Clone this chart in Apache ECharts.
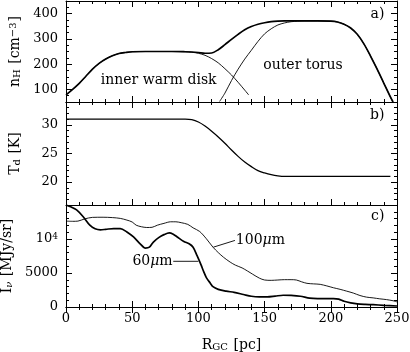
<!DOCTYPE html>
<html>
<head>
<meta charset="utf-8">
<script src="https://cdn.jsdelivr.net/npm/echarts@6/dist/echarts.min.js"></script>
<style>
html, body { margin: 0; padding: 0; background: #fff; }
#chart { width: 410px; height: 352px; }
</style>
</head>
<body>
<div id="chart"></div>
<script>
// a) gas density n_H [cm^-3] vs R_GC [pc]
const rDisk = [0, 5, 10, 15, 20, 25, 30, 35, 40, 45, 50, 60, 70, 80, 90, 95, 100, 105, 110, 115, 120, 125, 130, 135, 138]
const nDisk = [78, 100, 124, 152, 180, 203, 220, 233, 242, 246, 249, 250, 250, 250, 249, 247, 243, 235, 222, 205, 182, 157, 128, 97, 78]
const rTorus = [116, 120, 125, 130, 135, 140, 145, 150, 155, 160, 165, 170, 175, 180, 190, 200, 205, 210, 215, 220, 225, 230, 235, 240, 245, 247]
const nTorus = [52, 85, 135, 180, 220, 255, 290, 320, 340, 355, 363, 368, 370, 371, 371, 370, 367, 358, 343, 318, 280, 232, 180, 125, 70, 50]
const rTotal = [0, 5, 10, 15, 20, 25, 30, 35, 40, 45, 50, 60, 70, 80, 90, 95, 100, 105, 110, 115, 120, 125, 130, 135, 140, 145, 150, 155, 160, 165, 170, 180, 190, 200, 205, 210, 215, 220, 225, 230, 235, 240, 245, 247]
const nTotal = [78, 100, 124, 152, 180, 203, 220, 233, 242, 246, 249, 250, 250, 250, 249, 248, 246, 243, 244, 257, 277, 298, 318, 336, 349, 358, 364, 368, 370, 371, 371, 371, 371, 370, 367, 358, 343, 318, 280, 232, 180, 125, 70, 50]

// b) dust temperature T_d [K]
const rTd = [0, 30, 60, 90, 95, 100, 105, 110, 115, 120, 125, 130, 135, 140, 145, 150, 155, 160, 165, 200, 245]
const td = [31, 31, 31, 31, 30.9, 30.5, 29.8, 28.9, 27.9, 26.8, 25.6, 24.5, 23.5, 22.7, 22.0, 21.6, 21.3, 21.1, 21.0, 21.0, 21.0]

// c) intensity I_nu [MJy/sr]
const r60 = [0, 4, 8, 13, 18, 22, 26, 30, 36, 41, 46, 51, 56, 60, 63, 66, 70, 74, 78, 81, 84, 89, 93, 96, 99, 102, 104, 106, 109, 111, 115, 121, 127, 134, 140, 146, 152, 158, 164, 170, 177, 184, 190, 196, 202, 206, 210, 215, 220, 226, 232, 240, 250]
const i60 = [15000, 14700, 14270, 13280, 12030, 11500, 11350, 11420, 11540, 11540, 11040, 10300, 9300, 8660, 8800, 9550, 10200, 10640, 10900, 10700, 10300, 9640, 9300, 8800, 7550, 6200, 5200, 4330, 3500, 2990, 2600, 2330, 2150, 1840, 1580, 1490, 1490, 1600, 1730, 1700, 1580, 1300, 1240, 1240, 1240, 1150, 840, 600, 450, 380, 340, 250, 150]
const r100 = [0, 5, 9, 14, 20, 28, 35, 41, 46, 50, 53, 57, 61, 65, 69, 74, 79, 83, 87, 92, 96, 101, 106, 111, 115, 119, 124, 128, 133, 137, 141, 146, 150, 155, 160, 165, 170, 174, 178, 182, 187, 192, 197, 202, 207, 212, 217, 222, 227, 232, 237, 242, 247, 250]
const i100 = [12630, 12600, 12630, 12950, 13180, 13200, 13150, 13030, 12780, 12500, 12030, 11800, 11690, 11720, 12030, 12300, 12530, 12530, 12400, 12150, 11640, 11100, 10040, 8800, 8000, 7310, 6600, 6150, 5750, 5300, 4820, 4250, 3970, 3920, 3970, 4020, 4020, 3970, 3700, 3480, 3400, 3330, 3100, 2830, 2600, 2330, 2050, 1690, 1450, 1340, 1200, 1090, 920, 750]

// tick labels
const rTicks = [0, 50, 100, 150, 200, 250]
const nTicks = [100, 200, 300, 400]
const tdTicks = [20, 25, 30]
const iTicks = [0, 5000, 10000]

const font = 'DejaVu Serif'
const ink = '#000'
const zip = (xs, ys) => xs.map((x, i) => [x, ys[i]])

const rich = {
  sub: { fontFamily: font, fontSize: 10, color: ink, verticalAlign: 'bottom', padding: [0, 1, 0, 0] },
  sup: { fontFamily: font, fontSize: 10, color: ink, verticalAlign: 'top', padding: [0, 1, 0, 0] },
  itsub: { fontFamily: font, fontSize: 10, color: ink, fontStyle: 'italic', verticalAlign: 'bottom', padding: [0, 1, 0, 0] }
}
const tickRich = {
  sup: { fontFamily: font, fontSize: 9, color: ink, verticalAlign: 'top' }
}

const grids = [
  { left: 66, right: 13, top: 1, height: 101, outerBoundsMode: 'none', containLabel: false },
  { left: 66, right: 13, top: 102, height: 103, outerBoundsMode: 'none', containLabel: false },
  { left: 66, right: 13, top: 205, height: 102, outerBoundsMode: 'none', containLabel: false }
]
const yPanels = [
  { min: 50, max: 450, minor: 25, majors: nTicks, name: 'n{sub|H} [cm{sup|−3}]' },
  { min: 16, max: 34, minor: 1, majors: tdTicks, name: 'T{sub|d} [K]' },
  { min: 0, max: 15000, minor: 1000, majors: iTicks, name: 'I{itsub|ν} [MJy/sr]' }
]

const xAxis = []
const yAxis = []
grids.forEach((g, gi) => {
  ['bottom', 'top'].forEach(pos => {
    const last = gi === 2 && pos === 'bottom'
    xAxis.push({
      type: 'value', gridIndex: gi, position: pos, min: 0, max: 250, interval: 50,
      axisLine: { show: true, lineStyle: { color: ink, width: 1 } },
      axisTick: { show: true, inside: true, length: 6, lineStyle: { color: ink } },
      minorTick: { show: true, splitNumber: 5, length: 3, lineStyle: { color: ink } },
      splitLine: { show: false },
      axisLabel: { show: last, color: ink, fontFamily: font, fontSize: 13, margin: 5 },
      name: last ? 'R{sub|GC} [pc]' : '',
      nameLocation: 'middle', nameGap: 31,
      nameTextStyle: { color: ink, fontFamily: font, fontSize: 14, rich: rich }
    })
  })
  const p = yPanels[gi]
  ;['left', 'right'].forEach(pos => {
    // minor ticks + frame line
    yAxis.push({
      type: 'value', gridIndex: gi, position: pos, min: p.min, max: p.max, interval: p.minor,
      axisLine: { show: true, lineStyle: { color: ink, width: 1 } },
      axisTick: { show: true, inside: true, length: 3, lineStyle: { color: ink } },
      splitLine: { show: false },
      axisLabel: { show: false }
    })
    // major ticks + labels
    yAxis.push({
      type: 'value', gridIndex: gi, position: pos, min: p.min, max: p.max,
      axisLine: { show: false },
      axisTick: { show: true, inside: true, length: 6, customValues: p.majors, lineStyle: { color: ink } },
      splitLine: { show: false },
      axisLabel: {
        show: pos === 'left', customValues: p.majors, color: ink, fontFamily: font, fontSize: 13, margin: 8,
        formatter: v => v === 10000 ? '10{sup|4}' : String(v),
        rich: tickRich
      },
      name: pos === 'left' ? p.name : '',
      nameLocation: 'middle', nameRotate: 90, nameGap: 44,
      nameTextStyle: { color: ink, fontFamily: font, fontSize: 14, rich: rich }
    })
  })
})

const line = (name, gi, data, width) => ({
  name: name, type: 'line', xAxisIndex: gi * 2, yAxisIndex: gi * 4,
  data: data, showSymbol: false, symbol: 'none', smooth: 0.3,
  lineStyle: { color: ink, width: width }
})

const series = [
  line('disk', 0, zip(rDisk, nDisk), 0.9),
  line('torus', 0, zip(rTorus, nTorus), 0.9),
  line('total', 0, zip(rTotal, nTotal), 1.7),
  line('Td', 1, zip(rTd, td), 1.3),
  line('60', 2, zip(r60, i60), 1.7),
  line('100', 2, zip(r100, i100), 0.9)
]

const chart = echarts.init(document.getElementById('chart'), null, { renderer: 'canvas' })
chart.setOption({
  animation: false,
  backgroundColor: '#fff',
  grid: grids,
  xAxis: xAxis,
  yAxis: yAxis,
  series: series
})

// annotations in data coordinates
const notes = [
  { s: 0, at: [70, 137], text: 'inner warm disk', align: 'center', size: 14 },
  { s: 1, at: [179, 196], text: 'outer torus', align: 'center', size: 14 },
  { s: 0, at: [240.5, 398], text: 'a)', align: 'right', size: 14 },
  { s: 3, at: [240.5, 31.7], text: 'b)', align: 'right', size: 14 },
  { s: 4, at: [240.5, 13280], text: 'c)', align: 'right', size: 14 },
  { s: 5, at: [128.3, 9750], text: '100{mu|μ}m', align: 'left', size: 14 },
  { s: 4, at: [80.5, 6720], text: '60{mu|μ}m', align: 'right', size: 14 }
]
const leaders = [
  { s: 5, from: [111.3, 8800], to: [127.6, 9790] },
  { s: 4, from: [81, 6720], to: [100, 6720] }
]
const graphic = []
notes.forEach(n => {
  const pt = chart.convertToPixel({ seriesIndex: n.s }, n.at)
  graphic.push({
    type: 'text', x: pt[0], y: pt[1],
    style: {
      text: n.text, fill: ink, font: n.size + 'px "' + font + '"',
      align: n.align, verticalAlign: 'middle',
      rich: { mu: { fontFamily: font, fontSize: n.size, fontStyle: 'italic', fill: ink } }
    }
  })
})
leaders.forEach(l => {
  const a = chart.convertToPixel({ seriesIndex: l.s }, l.from)
  const b = chart.convertToPixel({ seriesIndex: l.s }, l.to)
  graphic.push({
    type: 'line', shape: { x1: a[0], y1: a[1], x2: b[0], y2: b[1] },
    style: { stroke: ink, lineWidth: 0.9 }
  })
})
chart.setOption({ graphic: graphic })
</script>
</body>
</html>
